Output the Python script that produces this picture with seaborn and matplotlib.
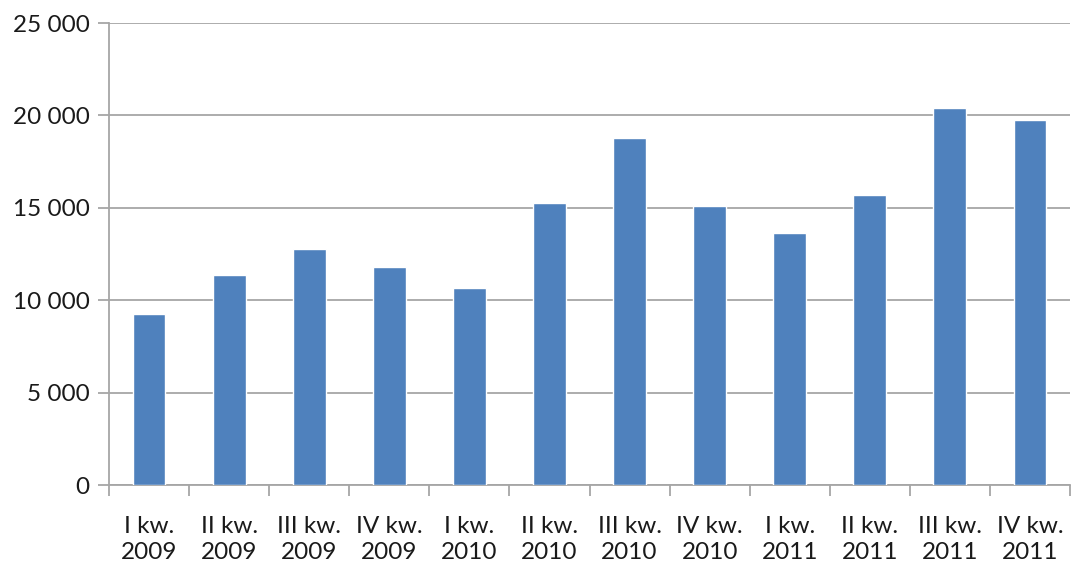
import matplotlib
matplotlib.use("Agg")
import matplotlib.pyplot as plt
import matplotlib.ticker as mticker
import seaborn as sns
import pandas as pd
import numpy as np

quarters = ["I kw.", "II kw.", "III kw.", "IV kw."] * 3
years = ["2009"] * 4 + ["2010"] * 4 + ["2011"] * 4
categories = [f"{q}\n{y}" for q, y in zip(quarters, years)]
values = [9270, 11370, 12760, 11780, 10670, 15250, 18790, 15100, 13640, 15680, 20390, 19760]
yticks = [0, 5000, 10000, 15000, 20000, 25000]

df = pd.DataFrame({"cat": categories, "val": values})

sns.set_theme(style="white")
plt.rcParams["font.family"] = ["Lato", "DejaVu Sans"]

fig = plt.figure(figsize=(10.74, 5.62), dpi=100)
ax = fig.add_axes([0.1015, 0.137, 0.8948, 0.822])

sns.barplot(data=df, x="cat", y="val", color="#4F81BD", width=0.41,
            saturation=1, ax=ax, zorder=3)

ax.set_ylim(0, 25000)
ax.set_xlim(-0.5, len(categories) - 0.5)
ax.set_yticks(yticks)
ax.yaxis.set_major_formatter(mticker.FuncFormatter(lambda v, p: f"{int(v):,}".replace(",", " ")))
ax.grid(axis="y", color="#A6A6A6", linewidth=1.3, zorder=0)
ax.set_axisbelow(True)
ax.set_xlabel("")
ax.set_ylabel("")

for s in ["top", "right"]:
    ax.spines[s].set_visible(False)
for s in ["left", "bottom"]:
    ax.spines[s].set_color("#A6A6A6")
    ax.spines[s].set_linewidth(1.3)

ax.tick_params(axis="y", which="major", length=8, color="#A6A6A6", width=1.3,
               labelsize=17.5, labelcolor="#1a1a1a", pad=6, left=True)
ax.set_xticks(np.arange(len(categories)))
ax.set_xticklabels(categories, linespacing=1.3)
ax.tick_params(axis="x", which="major", length=0, labelsize=17.5, labelcolor="#1a1a1a", pad=22)
ax.set_xticks(np.arange(-0.5, len(categories), 1.0), minor=True)
ax.tick_params(axis="x", which="minor", length=8, color="#A6A6A6", width=1.3, bottom=True)

fig.savefig("out.png", dpi=100)
